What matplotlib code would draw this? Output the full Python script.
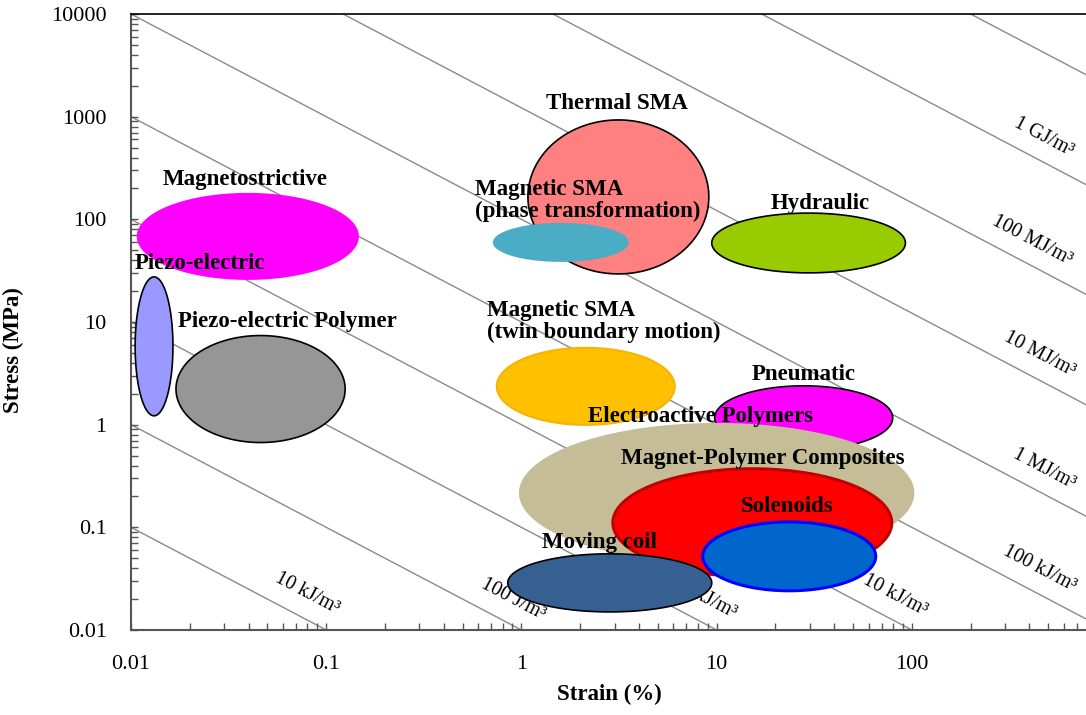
import numpy as np
import matplotlib
matplotlib.use("Agg")
import matplotlib.pyplot as plt
from matplotlib.ticker import FuncFormatter, NullFormatter, LogLocator

# actuator regions: strain range (%) and stress range (MPa)
actuators = ["Magnetostrictive", "Piezo-electric", "Piezo-electric Polymer",
             "Thermal SMA", "Magnetic SMA phase", "Hydraulic", "Magnetic SMA twin",
             "Pneumatic", "Electroactive Polymers", "Magnet-Polymer Composites",
             "Solenoids", "Moving coil"]
strain_lo = [0.0107, 0.0105, 0.0170, 1.08, 0.714, 9.44, 0.748, 9.77, 0.971, 2.94, 8.49, 0.851]
strain_hi = [0.147, 0.0164, 0.125, 9.12, 3.55, 92.7, 6.10, 79.8, 103.0, 78.9, 65.3, 9.44]
stress_lo = [25.7, 1.22, 0.670, 29.4, 38.5, 30.1, 0.995, 0.569, 0.045, 0.033, 0.0241, 0.0150]
stress_hi = [181.0, 27.5, 7.38, 929.0, 92.3, 115.0, 5.60, 2.39, 1.04, 0.372, 0.113, 0.0552]

# constant stress x strain guide lines and their labels
line_products = [0.001, 0.01, 0.1, 1, 10, 100, 1220, 14500, 170000, 2000000]
line_labels = ["10 kJ/m³", "100 J/m³", "1 kJ/m³", "10 kJ/m³", "100 kJ/m³",
               "1 MJ/m³", "10 MJ/m³", "100 MJ/m³", "1 GJ/m³", None]
line_label_strain = [0.07, 0.8, 8.0, 72, 400, 420, 400, 365, 420, None]

# label text and where it goes (strain, stress)
region_texts = ["Magnetostrictive", "Piezo-electric", "Piezo-electric Polymer",
                "Thermal SMA", "Magnetic SMA\n(phase transformation)", "Hydraulic",
                "Magnetic SMA\n(twin boundary motion)", "Pneumatic",
                "Electroactive Polymers", "Magnet-Polymer Composites",
                "Solenoids", "Moving coil"]
text_pos = [(0.0384, 242), (0.0105, 36.8), (0.0174, 10.0), (3.08, 1358),
            (0.577, 154), (34.1, 144), (0.665, 10.1), (27.9, 3.05),
            (8.3, 1.19), (17.2, 0.464), (23.1, 0.158), (2.52, 0.0706)]
text_ha = ["center", "left", "left", "center", "left", "center", "left",
           "center", "center", "center", "center", "center"]

face_colors = ["#FF00FF", "#9999FF", "#969696", "#FF8080", "#4BACC6", "#99CC00",
               "#FFC000", "#FF00FF", "#C4BD97", "#FF0000", "#0066CC", "#376092"]
edge_colors = ["none", "black", "black", "black", "none", "black",
               "#F5B400", "black", "none", "#C00000", "#0000FF", "black"]
edge_widths = [0, 1.2, 1.2, 1.2, 0, 1.2, 1.5, 1.2, 0, 2.2, 2.2, 1.2]

plt.rcParams["font.family"] = "Liberation Serif"

fig = plt.figure(figsize=(10.86, 7.15), dpi=100)
ax = fig.add_axes([131 / 1086, 85 / 715, 955 / 1086, 616 / 715])
ax.set_xscale("log")
ax.set_yscale("log")
ax.set_xlim(0.01, 780)
ax.set_ylim(0.01, 10000)

# guide lines
xs = np.logspace(-2.5, 3.5, 60)
for p in line_products:
    ax.plot(xs, p / xs, color="#8a8a8a", lw=1.0, zorder=1)

for p, lab, xl in zip(line_products, line_labels, line_label_strain):
    if lab is None:
        continue
    a = ax.transData.transform((xl, p / xl))
    b = ax.transData.transform((xl * 2, p / (xl * 2)))
    d = b - a
    d = d / np.hypot(*d)
    ang = np.degrees(np.arctan2(d[1], d[0]))
    off = 16.5
    ax.annotate(lab, xy=(xl, p / xl), xytext=(-d[1] * off, d[0] * off),
                textcoords="offset points", rotation=ang, rotation_mode="anchor",
                ha="center", va="center", fontsize=14.5, zorder=3)

# ellipses drawn in log space
t = np.linspace(0, 2 * np.pi, 300)
for i in range(len(actuators)):
    lx0, lx1 = np.log10(strain_lo[i]), np.log10(strain_hi[i])
    ly0, ly1 = np.log10(stress_lo[i]), np.log10(stress_hi[i])
    ex = 10 ** ((lx0 + lx1) / 2 + (lx1 - lx0) / 2 * np.cos(t))
    ey = 10 ** ((ly0 + ly1) / 2 + (ly1 - ly0) / 2 * np.sin(t))
    ax.fill(ex, ey, facecolor=face_colors[i], edgecolor=edge_colors[i],
            linewidth=edge_widths[i], zorder=4 + i)

for txt, (x, y), ha in zip(region_texts, text_pos, text_ha):
    ax.text(x, y, txt, ha=ha, va="center", fontsize=16.5, fontweight="bold",
            linespacing=1.05, zorder=30)

ax.spines["right"].set_visible(False)
ax.spines["top"].set_color("black")
ax.spines["top"].set_linewidth(1.2)
for s in ["left", "bottom"]:
    ax.spines[s].set_color("#555555")
    ax.spines[s].set_linewidth(1.5)

fmt = FuncFormatter(lambda v, pos: f"{v:g}")
ax.xaxis.set_major_formatter(fmt)
ax.yaxis.set_major_formatter(fmt)
ax.xaxis.set_minor_locator(LogLocator(subs=np.arange(2, 10)))
ax.yaxis.set_minor_locator(LogLocator(subs=np.arange(2, 10)))
ax.xaxis.set_minor_formatter(NullFormatter())
ax.yaxis.set_minor_formatter(NullFormatter())
ax.tick_params(which="both", direction="in", length=5, width=1, color="#555555",
               top=False, right=False)
ax.tick_params(axis="x", labelsize=16, pad=18)
ax.tick_params(axis="y", labelsize=16, pad=17.5)

ax.set_xlabel("Strain (%)", fontsize=16.5, fontweight="bold")
ax.set_ylabel("Stress (MPa)", fontsize=16.5, fontweight="bold")
ax.xaxis.set_label_coords(0.501, -0.088)
ax.yaxis.set_label_coords(-0.112, 0.455)

fig.savefig("out.png", dpi=100)
